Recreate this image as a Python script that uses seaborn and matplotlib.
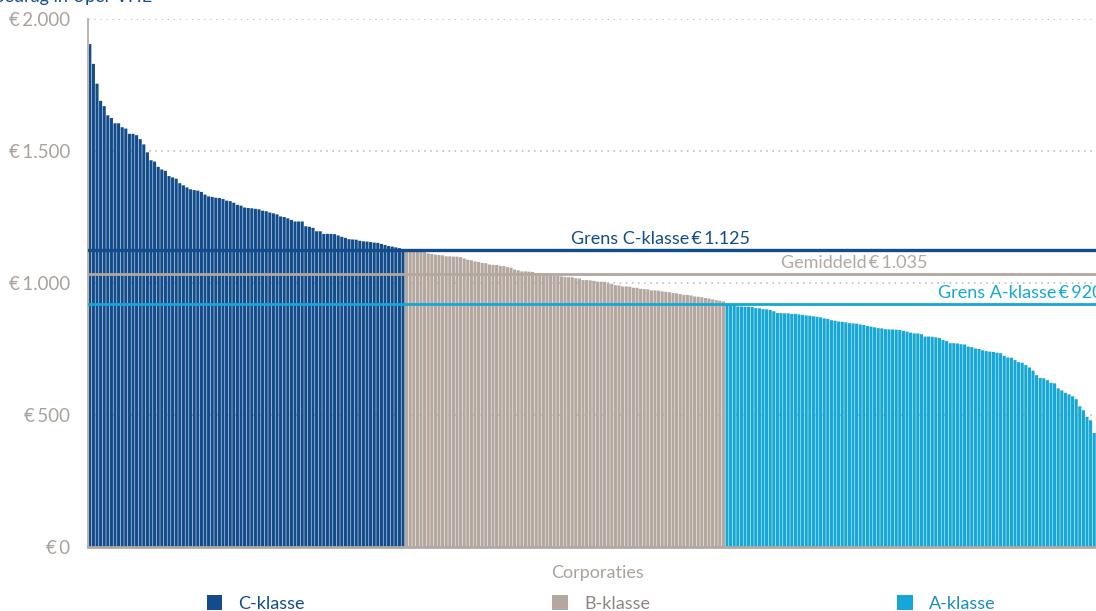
"""
plot.py — Bedrag per VHE per corporatie, gesorteerd, met klassegrenzen.
"""

import numpy as np
import pandas as pd
import matplotlib.pyplot as plt
from matplotlib.patches import Patch
import seaborn as sns


# ── Data ──────────────────────────────────────────────────────────────────────

c_klasse = [
    1905, 1830, 1755, 1690, 1670, 1635, 1625, 1605, 1605, 1590,
    1585, 1565, 1565, 1560, 1545, 1525, 1495, 1465, 1460, 1440,
    1430, 1425, 1405, 1400, 1395, 1378, 1370, 1362, 1355, 1352,
    1350, 1345, 1335, 1328, 1326, 1323, 1322, 1318, 1312, 1310,
    1304, 1296, 1293, 1286, 1284, 1283, 1281, 1279, 1274, 1272,
    1267, 1264, 1260, 1252, 1250, 1245, 1239, 1233, 1233, 1233,
    1215, 1213, 1209, 1196, 1196, 1186, 1186, 1186, 1185, 1180,
    1175, 1171, 1166, 1165, 1164, 1160, 1158, 1157, 1155, 1153,
    1152, 1148, 1144, 1140, 1138, 1135, 1132, 1128,
]

b_klasse = [
    1124, 1123, 1123, 1123, 1120, 1117, 1112, 1110, 1107, 1106,
    1105, 1101, 1101, 1100, 1100, 1098, 1093, 1088, 1086, 1082,
    1080, 1076, 1075, 1070, 1069, 1068, 1065, 1064, 1060, 1058,
    1051, 1048, 1044, 1044, 1043, 1042, 1038, 1037, 1032, 1032,
    1030, 1029, 1027, 1025, 1023, 1022, 1022, 1018, 1017, 1011,
    1011, 1010, 1008, 1005, 1005, 1004, 999, 997, 992, 991,
    987, 987, 986, 982, 982, 978, 977, 976, 972, 972,
    971, 968, 967, 965, 962, 961, 958, 955, 955, 953,
    949, 948, 946, 943, 941, 938, 935, 933, 930,
]

a_klasse = [
    918, 917, 916, 911, 911, 910, 910, 909, 905, 904,
    901, 900, 898, 893, 886, 886, 885, 885, 883, 883,
    881, 879, 877, 876, 874, 872, 870, 866, 864, 859,
    857, 854, 853, 851, 848, 847, 846, 843, 841, 837,
    835, 832, 829, 828, 825, 824, 824, 823, 822, 819,
    816, 812, 809, 809, 806, 797, 797, 796, 794, 792,
    784, 780, 772, 772, 771, 768, 767, 759, 757, 752,
    750, 745, 742, 740, 739, 736, 734, 724, 718, 717,
    708, 700, 698, 689, 680, 668, 651, 640, 639, 632,
    622, 620, 601, 593, 584, 578, 571, 560, 533, 518,
    493, 480, 432, 426,
]

klassen = ["C-klasse", "B-klasse", "A-klasse"]
grenzen = [1125, 1035, 920]
grens_labels = ["Grens C-klasse\u2009€\u20091.125", "Gemiddeld\u2009€\u20091.035",
                "Grens A-klasse\u2009€\u2009920"]
y_ticks = [0, 500, 1000, 1500, 2000]
y_ticklabels = ["€\u20090", "€\u2009500", "€\u20091.000", "€\u20091.500", "€\u20092.000"]

# ── Stijl ─────────────────────────────────────────────────────────────────────

DARK_BLUE = "#134c8b"
BEIGE = "#b3a79f"
LIGHT_BLUE = "#15a7d5"
GREY_TXT = "#a9a29c"
palette = {"C-klasse": DARK_BLUE, "B-klasse": BEIGE, "A-klasse": LIGHT_BLUE}

sns.set_theme(style="white")
plt.rcParams["font.family"] = ["Lato", "DejaVu Sans"]

values = c_klasse + b_klasse + a_klasse
labels = (["C-klasse"] * len(c_klasse) + ["B-klasse"] * len(b_klasse)
          + ["A-klasse"] * len(a_klasse))
df = pd.DataFrame({"idx": np.arange(len(values)), "bedrag": values, "klasse": labels})

fig = plt.figure(figsize=(10.96, 6.11), dpi=100)
ax = fig.add_axes([88 / 1096, 1 - 547 / 611, 1020 / 1096, 528 / 611])

sns.barplot(
    data=df, x="idx", y="bedrag", hue="klasse", palette=palette,
    dodge=False, width=0.86, saturation=1, legend=False, ax=ax, zorder=2,
    linewidth=0,
)
for p in ax.patches:
    p.set_snap(False)

ax.set_xlim(-0.5, 1020 / 3.6 - 0.5)
ax.set_ylim(0, 2000)
ax.set_xticks([])
ax.set_yticks(y_ticks)
ax.set_yticklabels(y_ticklabels)
ax.tick_params(axis="y", length=0, pad=13, labelsize=13.5, labelcolor=GREY_TXT)
ax.set_ylabel("")
ax.set_xlabel("Corporaties", color=GREY_TXT, fontsize=13, labelpad=13)

# dotted grid
for t in y_ticks[1:]:
    ax.axhline(t, color="#b5b5b5", lw=1.1, ls=(0, (1, 3)), zorder=1)

for side in ["top", "right"]:
    ax.spines[side].set_visible(False)
ax.spines["left"].set_color("#bdb5ae")
ax.spines["left"].set_linewidth(1.5)
ax.spines["bottom"].set_color("#b0aaa5")
ax.spines["bottom"].set_linewidth(2)

# klassegrenzen + labels
lijn_kleuren = [DARK_BLUE, BEIGE, LIGHT_BLUE]
lijn_breedte = [2.4, 2.0, 2.0]
label_x = [183.4, 232.6, 281.2]  # rechterkant label (data-eenheden)
for g, lab, kl, lw, lx in zip(grenzen, grens_labels, lijn_kleuren, lijn_breedte, label_x):
    ax.axhline(g, color=kl, lw=lw, zorder=3)
    ax.text(lx, g + 12, lab, color=kl, fontsize=13, ha="right", va="bottom", zorder=4)

# titel (afgesneden bovenaan)
fig.text(-0.006, 1 - 2 / 611, "Bedrag in €\u2009per VHE", color=DARK_BLUE,
         fontsize=13, ha="left", va="baseline")

# legenda
handles = [Patch(facecolor=palette[k], edgecolor="none") for k in klassen]
leg = fig.legend(
    handles, klassen, loc="lower center", bbox_to_anchor=(0.5485, -0.028),
    ncol=3, frameon=False, fontsize=13, handlelength=0.85, handleheight=0.85,
    handletextpad=0.9, columnspacing=13.7,
)
for t in leg.get_texts():
    t.set_color(DARK_BLUE)
leg.get_texts()[1].set_color("#8f8580")
leg.get_texts()[2].set_color("#1a8fbd")

fig.savefig("out.png", dpi=100)
plt.close(fig)
